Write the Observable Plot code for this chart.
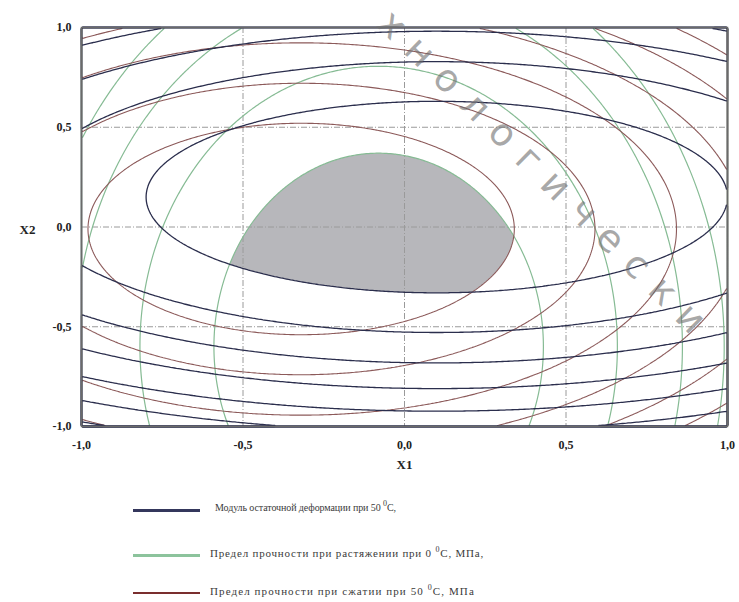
<!DOCTYPE html>
<html>
<head>
<meta charset="utf-8">
<script src="https://cdn.jsdelivr.net/npm/d3@7"></script>
<script src="https://cdn.jsdelivr.net/npm/@observablehq/plot@0.6"></script>
<style>
  html, body { margin: 0; padding: 0; background: #fff; }
  #wrap { position: relative; width: 739px; height: 602px; overflow: hidden; background: #fff; }
  #chart svg { display: block; }
  .leg { position: absolute; left: 0; font-family: "Liberation Serif", "DejaVu Serif", serif; color: #3a3a3a; white-space: nowrap; }
  .leg .sw { position: absolute; left: 133px; width: 67px; }
  .leg .tx { position: absolute; top: -8px; }
  .leg sup { font-size: 8px; vertical-align: 5px; line-height: 0; }
  #wm { position: absolute; left: 398px; top: 3px; transform: rotate(44.5deg); transform-origin: 0 0;
        font-family: "DejaVu Sans", sans-serif; font-size: 38px; letter-spacing: 15px; color: rgba(110,110,110,0.6);
        pointer-events: none; white-space: nowrap; line-height: 1; }
</style>
</head>
<body>
<div id="wrap">
  <div id="chart"></div>
  <div id="legend"></div>
  <div id="wm">хнологически</div>
</div>
<script>
// ---- data ----
// axis ticks
const xTickValues = [-1, -0.5, 0, 0.5, 1];
const xTickLabels = ["-1,0", "-0,5", "0,0", "0,5", "1,0"];
const yTickValues = [-1, -0.5, 0, 0.5, 1];
const yTickLabels = ["-1,0", "-0,5", "0,0", "0,5", "1,0"];
const gridValues = [-0.5, 0, 0.5];

// response-surface coefficients [b0, b1, b2, b11, b22, b12] (coded factors X1, X2)
const modulusCoef = [0.1100, -0.2469, -1.3021, 1.2346, 4.3403, 0.0];
const tensileCoef = [0.4072, 0.6152, 1.2754, 3.8447, 1.0628, 0.0];
const compressCoef = [0.2355, 1.4692, 0.0712, 2.2957, 3.5600, 0.0];

// contour levels (in the coded response units)
const modulusLevels = [1, 2, 3, 4, 5, 6, 7, 8];
const tensileLevels = [1, 2.1, 3.4, 4.4];
const compressLevels = [1, 1.9, 3.1, 4.3, 5.5, 6.7, 7.9];
// limit of the feasible (shaded) region for each response
const feasibleLimits = [1, 1, 1];

// legend
const seriesNames = [
  "Модуль остаточной деформации при 50 <sup>0</sup>С,",
  "Предел прочности при растяжении при 0 <sup>0</sup>С, МПа,",
  "Предел прочности при сжатии при 50 <sup>0</sup>С, МПа"
];
const seriesColors = ["#2b2e4d", "#86bb94", "#8c5a5a"];
const legendColors = ["#34375c", "#8cc39c", "#7a2e2e"];

// ---- model ----
const surface = c => (x, y) => c[0] + c[1]*x + c[2]*y + c[3]*x*x + c[4]*y*y + c[5]*x*y;
const fMod = surface(modulusCoef), fTen = surface(tensileCoef), fCom = surface(compressCoef);
const feasible = (x, y) => -Math.max(fMod(x, y) - feasibleLimits[0], fTen(x, y) - feasibleLimits[1], fCom(x, y) - feasibleLimits[2]);

const ext = {x1: -1, y1: -1, x2: 1, y2: 1};
const fmt = (vals, labs) => d => { const i = vals.findIndex(v => Math.abs(v - d) < 1e-9); return i >= 0 ? labs[i] : ""; };

const chart = Plot.plot({
  width: 739, height: 480,
  marginTop: 27, marginBottom: 54, marginLeft: 81, marginRight: 12,
  style: {fontFamily: "'Liberation Serif', 'DejaVu Serif', serif", fontSize: "12px", fontWeight: "bold", color: "#222", background: "#fff"},
  x: {domain: [-1, 1], ticks: xTickValues.length - 1, tickFormat: fmt(xTickValues, xTickLabels), tickSize: 0, tickPadding: 14, label: null},
  y: {domain: [-1, 1], ticks: yTickValues.length - 1, tickFormat: fmt(yTickValues, yTickLabels), tickSize: 0, tickPadding: 10, label: null},
  marks: [
    Plot.contour({...ext, value: feasible, thresholds: [0], fill: "#b7b7bb", stroke: "none", smooth: true}),
    Plot.ruleX(gridValues, {stroke: "#9a9a9a", strokeWidth: 1, strokeDasharray: "6,2,1,2"}),
    Plot.ruleY(gridValues, {stroke: "#9a9a9a", strokeWidth: 1, strokeDasharray: "6,2,1,2"}),
    Plot.contour({...ext, value: fTen, thresholds: tensileLevels, fill: "none", stroke: seriesColors[1], strokeWidth: 1.2}),
    Plot.contour({...ext, value: fCom, thresholds: compressLevels, fill: "none", stroke: seriesColors[2], strokeWidth: 1.1}),
    Plot.contour({...ext, value: fMod, thresholds: modulusLevels, fill: "none", stroke: seriesColors[0], strokeWidth: 1.3}),
    Plot.frame({stroke: "#6a6a6a", strokeWidth: 1.5}),
    Plot.text(["X2"], {frameAnchor: "left", dx: -62, dy: 3, fontWeight: "bold", fontSize: 13}),
    Plot.text(["X1"], {frameAnchor: "bottom", dy: 42, fontWeight: "bold", fontSize: 13})
  ]
});
document.getElementById("chart").appendChild(chart);

// legend rows
const rowsY = [510, 555, 593];
const textX = [215, 210, 210];
const textSize = [10, 11, 11];
const textSpacing = [-0.1, 0.8, 1.1];
const swH = [3, 3, 1.5];
const legend = document.getElementById("legend");
seriesNames.forEach((name, i) => {
  const row = document.createElement("div");
  row.className = "leg";
  row.style.top = rowsY[i] + "px";
  row.innerHTML = `<div class="sw" style="top:${-swH[i]/2}px;height:${swH[i]}px;background:${legendColors[i]}"></div>` +
                  `<div class="tx" style="left:${textX[i]}px;font-size:${textSize[i]}px;letter-spacing:${textSpacing[i]}px">${name}</div>`;
  legend.appendChild(row);
});
</script>
</body>
</html>
